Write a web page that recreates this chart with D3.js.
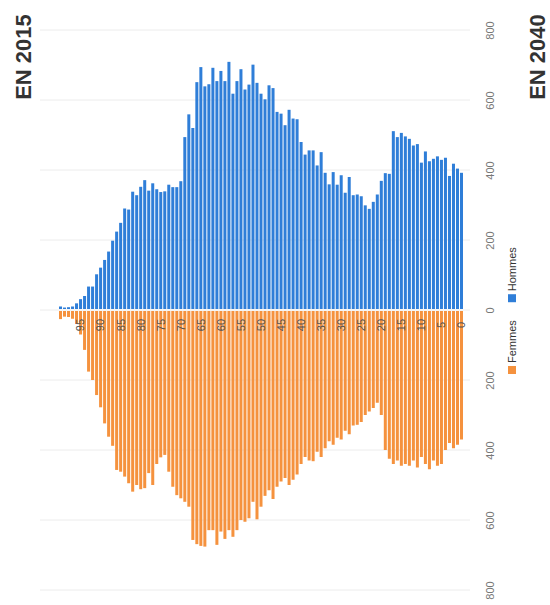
<!DOCTYPE html>
<meta charset="utf-8">
<style>

body { margin: 0; background: #fff; }
svg { font-family: "Liberation Sans", Arial, sans-serif; }
.grid line { stroke: #ececec; }
.axe text { fill: #777; font-size: 11px; }
.ages text { fill: #555; font-size: 11px; }
.titre { font-size: 22px; font-weight: bold; fill: #333; }
.legende text { font-size: 11px; fill: #333; }

</style>

<svg width="550" height="605"></svg>

<script src="https://d3js.org/d3.v7.min.js"></script>
<script>

// âges 0 à 100
var ages = d3.range(0, 101);
var agesEtiquettes = [0, 5, 10, 15, 20, 25, 30, 35, 40, 45, 50, 55, 60, 65, 70, 75, 80, 85, 90, 95];
var valeursAxe = [-800, -600, -400, -200, 0, 200, 400, 600, 800];

// effectifs par âge (index = âge)
var hommes = [392, 404, 418, 383, 435, 429, 439, 432, 425, 453,
              421, 474, 470, 489, 496, 506, 494, 511, 389, 391,
              369, 330, 309, 289, 299, 325, 330, 328, 380, 335,
              385, 358, 394, 359, 392, 451, 413, 456, 456, 444,
              480, 545, 547, 572, 528, 561, 566, 634, 642, 602,
              618, 649, 701, 644, 630, 688, 654, 618, 709, 654,
              683, 654, 692, 645, 639, 694, 651, 520, 559, 494,
              368, 351, 351, 358, 339, 337, 345, 362, 341, 371,
              352, 328, 338, 287, 290, 249, 224, 198, 167, 143,
              121, 102, 67, 67, 40, 31, 19, 10, 8, 7, 10];

var femmes = [370, 385, 395, 380, 400, 440, 445, 430, 455, 440,
              420, 450, 430, 445, 440, 445, 430, 440, 425, 400,
              300, 265, 280, 290, 300, 320, 328, 330, 355, 345,
              370, 365, 385, 375, 395, 420, 405, 432, 430, 420,
              440, 470, 485, 500, 480, 490, 505, 540, 515, 531,
              562, 598, 548, 595, 605, 600, 629, 648, 629, 654,
              633, 671, 629, 629, 676, 674, 669, 657, 562, 548,
              538, 529, 505, 462, 414, 421, 440, 500, 466, 509,
              512, 500, 519, 495, 476, 462, 457, 388, 362, 324,
              278, 243, 200, 176, 114, 70, 40, 25, 20, 19, 26];

var series = ["Femmes", "Hommes"];
var couleurs = ["#f5923e", "#2f7ed8"];

var svg = d3.select("svg");

// la pyramide est tournée : âges à l'horizontale, 0 à droite
var x = d3.scaleBand()
    .domain(ages.slice().reverse())
    .range([59, 463])
    .paddingInner(0.25);

var y = d3.scaleLinear()
    .domain([-800, 800])
    .range([590, 30]);

svg.append("g")
    .attr("class", "grid")
  .selectAll("line")
  .data(valeursAxe)
  .enter().append("line")
    .attr("x1", 40).attr("x2", 470)
    .attr("y1", d => y(d)).attr("y2", d => y(d));

svg.append("g")
  .selectAll("rect")
  .data(ages)
  .enter().append("rect")
    .attr("x", d => x(d))
    .attr("width", x.bandwidth())
    .attr("y", d => y(hommes[d]))
    .attr("height", d => y(0) - 1 - y(hommes[d]))
    .attr("fill", couleurs[1]);

svg.append("g")
  .selectAll("rect")
  .data(ages)
  .enter().append("rect")
    .attr("x", d => x(d))
    .attr("width", x.bandwidth())
    .attr("y", y(0) + 1)
    .attr("height", d => y(-femmes[d]) - y(0) - 1)
    .attr("fill", couleurs[0]);

// axe des âges
var axeAges = svg.append("g")
    .attr("class", "ages")
    .attr("transform", "translate(0,325)")
    .call(d3.axisBottom(x).tickValues(agesEtiquettes).tickSize(0));
axeAges.select(".domain").remove();
axeAges.selectAll("text")
    .attr("y", 0).attr("dy", "0.35em")
    .attr("transform", "rotate(-90)")
    .attr("text-anchor", "middle");

// axe des effectifs
var axeValeurs = svg.append("g")
    .attr("class", "axe")
    .attr("transform", "translate(490,0)")
    .call(d3.axisRight(y).tickValues(valeursAxe).tickSize(0).tickFormat(d => Math.abs(d)));
axeValeurs.select(".domain").remove();
axeValeurs.selectAll("text")
    .attr("x", 0).attr("dy", "0.35em")
    .attr("transform", "rotate(-90)")
    .attr("text-anchor", "middle");

// titres
svg.append("text")
    .attr("class", "titre")
    .attr("transform", "translate(31,57) rotate(-90)")
    .attr("text-anchor", "middle")
    .text("EN 2015");

svg.append("text")
    .attr("class", "titre")
    .attr("transform", "translate(545,57) rotate(-90)")
    .attr("text-anchor", "middle")
    .text("EN 2040");

// légende
var legende = svg.append("g")
    .attr("class", "legende")
    .attr("transform", "translate(512,374) rotate(-90)");

var pos = 0;
series.forEach(function(s, i) {
  legende.append("rect")
      .attr("x", pos).attr("y", -4)
      .attr("width", 8).attr("height", 8)
      .attr("fill", couleurs[i]);
  var t = legende.append("text")
      .attr("x", pos + 11).attr("dy", "0.35em")
      .text(s);
  pos += 11 + t.node().getComputedTextLength() + 18;
});

</script>
